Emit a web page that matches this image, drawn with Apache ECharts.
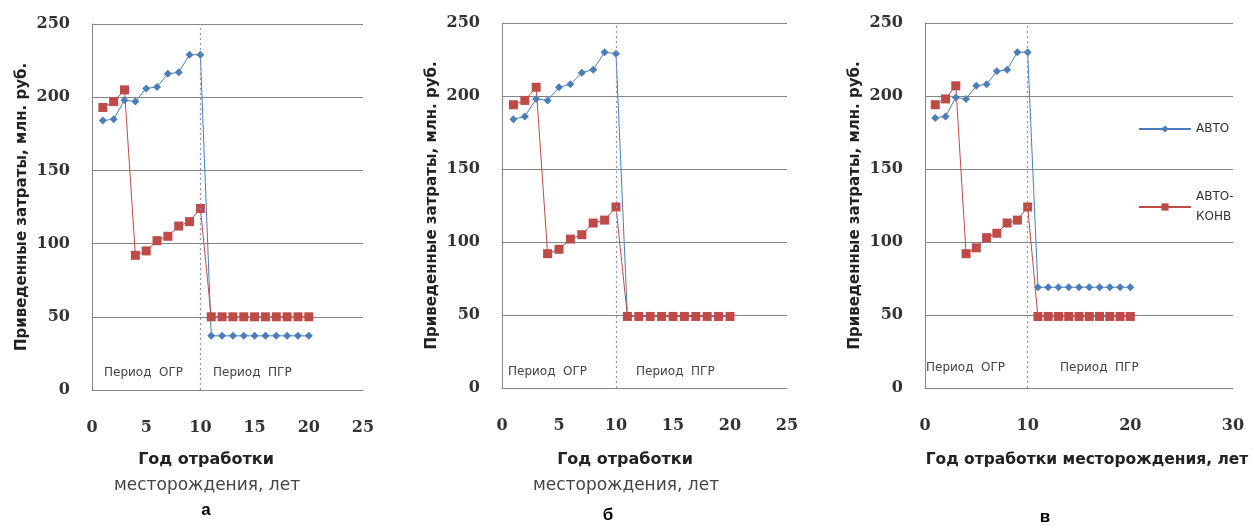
<!DOCTYPE html>
<html>
<head>
<meta charset="utf-8">
<script src="https://cdn.jsdelivr.net/npm/echarts@6/dist/echarts.min.js"></script>
<style>
html, body { margin: 0; padding: 0; background: #fff; }
#chart { width: 1252px; height: 526px; }
</style>
</head>
<body>
<div id="chart"></div>
<script>
// год отработки
var years = [1, 2, 3, 4, 5, 6, 7, 8, 9, 10, 11, 12, 13, 14, 15, 16, 17, 18, 19, 20];

// а
var avtoA = [184, 185, 198, 197, 206, 207, 216, 217, 229, 229, 37, 37, 37, 37, 37, 37, 37, 37, 37, 37];
var konvA = [193, 197, 205, 92, 95, 102, 105, 112, 115, 124, 50, 50, 50, 50, 50, 50, 50, 50, 50, 50];
// б
var avtoB = [184, 186, 198, 197, 206, 208, 216, 218, 230, 229, 49, 49, 49, 49, 49, 49, 49, 49, 49, 49];
var konvB = [194, 197, 206, 92, 95, 102, 105, 113, 115, 124, 49, 49, 49, 49, 49, 49, 49, 49, 49, 49];
// в
var avtoC = [185, 186, 199, 198, 207, 208, 217, 218, 230, 230, 69, 69, 69, 69, 69, 69, 69, 69, 69, 69];
var konvC = [194, 198, 207, 92, 96, 103, 106, 113, 115, 124, 49, 49, 49, 49, 49, 49, 49, 49, 49, 49];

var yTicks = [0, 50, 100, 150, 200, 250];
var xMaxAB = 25, xStepAB = 5;
var xMaxC = 30, xStepC = 10;
var boundary = 10;

var yTitle = 'Приведенные затраты, млн. руб.';
var names = ['АВТО', 'АВТО-КОНВ'];

var chart = echarts.init(document.getElementById('chart'), null, {renderer: 'canvas'});

var blue = '#4a7ebb', red = '#be4b48', gridCol = '#858585';
var tickFont = {fontFamily: 'DejaVu Serif', fontWeight: 'bold', fontSize: 16, color: '#333'};

function zip(v) {
    return years.map(function (y, i) { return [y, v[i]]; });
}

function xAx(i, max, step) {
    return {
        type: 'value', gridIndex: i, min: 0, max: max, interval: step,
        axisLine: {show: true, lineStyle: {color: gridCol}},
        axisTick: {show: false},
        splitLine: {show: false},
        axisLabel: Object.assign({margin: 30}, tickFont)
    };
}

function yAx(i) {
    return {
        type: 'value', gridIndex: i, min: yTicks[0], max: yTicks[yTicks.length - 1], interval: 50,
        name: yTitle, nameLocation: 'middle', nameGap: 62,
        nameTextStyle: {fontFamily: 'DejaVu Sans', fontWeight: 'bold', fontSize: 15, color: '#222'},
        axisLine: {show: true, lineStyle: {color: gridCol}},
        axisTick: {show: false},
        splitLine: {show: true, lineStyle: {color: gridCol, width: 1}},
        axisLabel: Object.assign({margin: 22}, tickFont)
    };
}

function pair(i, avto, konv) {
    return [
        {
            name: names[0], type: 'line', xAxisIndex: i, yAxisIndex: i, data: zip(avto),
            symbol: 'diamond', symbolSize: 8,
            lineStyle: {color: blue, width: 1}, itemStyle: {color: blue},
            markLine: {
                silent: true, symbol: 'none', label: {show: false},
                lineStyle: {color: '#8a93c0', type: [2, 3], width: 1.2},
                data: [{xAxis: boundary}]
            }
        },
        {
            name: names[1], type: 'line', xAxisIndex: i, yAxisIndex: i, data: zip(konv),
            symbol: 'rect', symbolSize: 9,
            lineStyle: {color: red, width: 1}, itemStyle: {color: red}
        }
    ];
}

var periodFont = {fontFamily: 'DejaVu Sans', fontSize: 12, fill: '#444'};
function txt(x, y, s, style) {
    return {type: 'text', left: x, top: y, style: Object.assign({text: s}, style)};
}
var titleBold = {fontFamily: 'DejaVu Sans', fontWeight: 'bold', fontSize: 16, fill: '#222', align: 'center'};
var titleBoldC = Object.assign({}, titleBold, {fontSize: 15.5});
var titleReg = {fontFamily: 'DejaVu Sans', fontSize: 17, fill: '#444', align: 'center'};
var letter = {fontFamily: 'Liberation Sans', fontWeight: 'bold', fontSize: 17, fill: '#000', align: 'center'};

var option = {
    animation: false,
    backgroundColor: '#fff',
    grid: [
        {left: 92, top: 24, width: 271, height: 366},
        {left: 502, top: 23, width: 285, height: 365},
        {left: 925, top: 23, width: 308, height: 365}
    ],
    xAxis: [xAx(0, xMaxAB, xStepAB), xAx(1, xMaxAB, xStepAB), xAx(2, xMaxC, xStepC)],
    yAxis: [yAx(0), yAx(1), yAx(2)],
    legend: {
        data: names, orient: 'vertical', left: 1133, top: 114,
        itemWidth: 52, itemHeight: 9, itemGap: 48,
        formatter: function (n) { return n === 'АВТО-КОНВ' ? 'АВТО-\nКОНВ' : n; },
        textStyle: {fontFamily: 'DejaVu Sans', fontSize: 12, color: '#333', lineHeight: 20}
    },
    series: [].concat(pair(0, avtoA, konvA), pair(1, avtoB, konvB), pair(2, avtoC, konvC)),
    graphic: [
        txt(104, 367, 'Период  ОГР', periodFont),
        txt(213, 367, 'Период  ПГР', periodFont),
        txt(508, 366, 'Период  ОГР', periodFont),
        txt(636, 366, 'Период  ПГР', periodFont),
        txt(926, 362, 'Период  ОГР', periodFont),
        txt(1060, 362, 'Период  ПГР', periodFont),
        {type: 'text', x: 206, y: 452, style: Object.assign({text: 'Год отработки'}, titleBold)},
        {type: 'text', x: 207, y: 477, style: Object.assign({text: 'месторождения, лет'}, titleReg)},
        {type: 'text', x: 625, y: 452, style: Object.assign({text: 'Год отработки'}, titleBold)},
        {type: 'text', x: 626, y: 477, style: Object.assign({text: 'месторождения, лет'}, titleReg)},
        {type: 'text', x: 1087, y: 452, style: Object.assign({text: 'Год отработки месторождения, лет'}, titleBoldC)},
        {type: 'text', x: 206, y: 502, style: Object.assign({text: 'а'}, letter)},
        {type: 'text', x: 608, y: 507, style: Object.assign({text: 'б'}, letter)},
        {type: 'text', x: 1045, y: 509, style: Object.assign({text: 'в'}, letter)}
    ]
};

chart.setOption(option);
</script>
</body>
</html>
